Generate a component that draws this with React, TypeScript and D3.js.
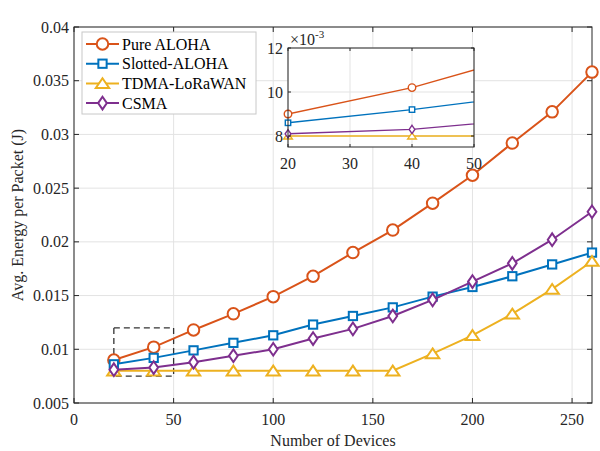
import React from "react";
import * as d3 from "d3";

const devices = [20, 40, 60, 80, 100, 120, 140, 160, 180, 200, 220, 240, 260];
const pureAloha = [0.0090, 0.0102, 0.0118, 0.0133, 0.0149, 0.0168, 0.0190, 0.0211, 0.0236, 0.0262, 0.0292, 0.0321, 0.0358];
const slottedAloha = [0.0086, 0.0092, 0.0099, 0.0106, 0.0113, 0.0123, 0.0131, 0.0139, 0.0149, 0.0158, 0.0168, 0.0179, 0.0190];
const tdmaLoRaWAN = [0.0080, 0.0080, 0.0080, 0.0080, 0.0080, 0.0080, 0.0080, 0.0080, 0.0096, 0.0113, 0.0133, 0.0156, 0.0182];
const csma = [0.0081, 0.0083, 0.0088, 0.0094, 0.0100, 0.0110, 0.0119, 0.0131, 0.0146, 0.0163, 0.0180, 0.0202, 0.0228];

const xTicks = [0, 50, 100, 150, 200, 250];
const yTicks = [0.005, 0.01, 0.015, 0.02, 0.025, 0.03, 0.035, 0.04];
const yTickLabels = ["0.005", "0.01", "0.015", "0.02", "0.025", "0.03", "0.035", "0.04"];
const insetXTicks = [20, 30, 40, 50];
const insetYTicks = [8, 10, 12];

type SeriesDef = { name: string; values: number[]; color: string; marker: string };
const series: SeriesDef[] = [
  { name: "Pure ALOHA", values: pureAloha, color: "#D95319", marker: "circle" },
  { name: "Slotted-ALOHA", values: slottedAloha, color: "#0072BD", marker: "square" },
  { name: "TDMA-LoRaWAN", values: tdmaLoRaWAN, color: "#EDB120", marker: "triangle" },
  { name: "CSMA", values: csma, color: "#7E2F8E", marker: "diamond" },
];

const FONT = "'Liberation Serif', 'Times New Roman', serif";
const AX = "#262626";
const GRID = "#e3e3e3";

function Marker({ type, x, y, s, color, sw }: { type: string; x: number; y: number; s: number; color: string; sw: number }) {
  const common = { fill: "white", stroke: color, strokeWidth: sw };
  if (type === "circle") return <circle cx={x} cy={y} r={s * 0.5} {...common} />;
  if (type === "square") return <rect x={x - s * 0.36} y={y - s * 0.36} width={s * 0.72} height={s * 0.72} {...common} />;
  if (type === "triangle") {
    const w = s * 0.58, h = s * 0.45;
    return <path d={`M${x},${y - h} L${x + w},${y + h * 0.9} L${x - w},${y + h * 0.9} Z`} {...common} />;
  }
  const w = s * 0.38, h = s * 0.55;
  return <path d={`M${x},${y - h} L${x + w},${y} L${x},${y + h} L${x - w},${y} Z`} {...common} />;
}

export default function App() {
  const W = 600, H = 451;
  const L = 74, R = 592, T = 27, B = 403;
  const x = d3.scaleLinear().domain([0, 260]).range([L, R]);
  const y = d3.scaleLinear().domain([0.005, 0.04]).range([B, T]);

  const line = d3.line<[number, number]>().x((d) => x(d[0])).y((d) => y(d[1]));

  // inset
  const iL = 288, iR = 474, iT = 48, iB = 147;
  const ix = d3.scaleLinear().domain([20, 50]).range([iL, iR]);
  const iy = d3.scaleLinear().domain([7.5, 12]).range([iB, iT]);
  const iline = d3.line<[number, number]>().x((d) => ix(d[0])).y((d) => iy(d[1] * 1000));

  const tk = 5;

  return (
    <svg width={W} height={H} style={{ position: "absolute", left: 0, top: 0, background: "white" }} fontFamily={FONT}>
      <defs>
        <clipPath id="insetClip">
          <rect x={iL} y={iT} width={iR - iL} height={iB - iT} />
        </clipPath>
      </defs>
      <rect x={0} y={0} width={W} height={H} fill="white" />
      {/* grid */}
      {xTicks.map((t) => (
        <line key={"gx" + t} x1={x(t)} x2={x(t)} y1={T} y2={B} stroke={GRID} strokeWidth={1} />
      ))}
      {yTicks.map((t) => (
        <line key={"gy" + t} x1={L} x2={R} y1={y(t)} y2={y(t)} stroke={GRID} strokeWidth={1} />
      ))}
      {/* axes box */}
      <rect x={L} y={T} width={R - L} height={B - T} fill="none" stroke={AX} strokeWidth={1} />
      {xTicks.map((t) => (
        <g key={"tx" + t}>
          <line x1={x(t)} x2={x(t)} y1={B} y2={B - tk} stroke={AX} />
          <line x1={x(t)} x2={x(t)} y1={T} y2={T + tk} stroke={AX} />
          <text x={x(t)} y={425} textAnchor="middle" fontSize={16} fill={AX}>{t}</text>
        </g>
      ))}
      {yTicks.map((t, i) => (
        <g key={"ty" + t}>
          <line x1={L} x2={L + tk} y1={y(t)} y2={y(t)} stroke={AX} />
          <line x1={R} x2={R - tk} y1={y(t)} y2={y(t)} stroke={AX} />
          <text x={L - 5} y={y(t) + 5.5} textAnchor="end" fontSize={16} fill={AX}>{yTickLabels[i]}</text>
        </g>
      ))}
      <text x={(L + R) / 2} y={446} textAnchor="middle" fontSize={16} fill={AX}>Number of Devices</text>
      <text transform={`translate(23,${(T + B) / 2}) rotate(-90)`} textAnchor="middle" fontSize={16} fill={AX}>Avg. Energy per Packet (J)</text>

      {/* dashed zoom region */}
      <rect x={x(20)} y={y(0.012)} width={x(50) - x(20)} height={y(0.0075) - y(0.012)} fill="none" stroke="#333" strokeWidth={1.3} strokeDasharray="6,4" />

      {/* series */}
      {series.map((s) => {
        const pts: [number, number][] = devices.map((d, i) => [d, s.values[i]]);
        return (
          <g key={s.name}>
            <path d={line(pts) || ""} fill="none" stroke={s.color} strokeWidth={2} />
            {pts.map((p, i) => (
              <Marker key={i} type={s.marker} x={x(p[0])} y={y(p[1])} s={11.5} color={s.color} sw={2} />
            ))}
          </g>
        );
      })}

      {/* legend */}
      <rect x={82} y={32} width={174} height={82} fill="white" stroke="#c8c8c8" strokeWidth={1} />
      {series.map((s, i) => {
        const ly = 44 + i * 19.7;
        return (
          <g key={"lg" + s.name}>
            <line x1={86} x2={119} y1={ly} y2={ly} stroke={s.color} strokeWidth={2} />
            <Marker type={s.marker} x={102.5} y={ly} s={11.5} color={s.color} sw={2} />
            <text x={122} y={ly + 5.5} fontSize={16} fill="#000">{s.name}</text>
          </g>
        );
      })}

      {/* inset */}
      <rect x={iL} y={iT} width={iR - iL} height={iB - iT} fill="white" />
      {insetXTicks.map((t) => (
        <line key={"igx" + t} x1={ix(t)} x2={ix(t)} y1={iT} y2={iB} stroke={GRID} strokeWidth={1} />
      ))}
      {insetYTicks.map((t) => (
        <line key={"igy" + t} x1={iL} x2={iR} y1={iy(t)} y2={iy(t)} stroke={GRID} strokeWidth={1} />
      ))}
      <g clipPath="url(#insetClip)">
        {series.map((s) => {
          const pts: [number, number][] = devices.map((d, i) => [d, s.values[i]]);
          return <path key={"il" + s.name} d={iline(pts) || ""} fill="none" stroke={s.color} strokeWidth={1.4} />;
        })}
      </g>
      {series.map((s) => (
        <g key={"im" + s.name}>
          {devices.map((d, i) =>
            d >= 20 && d <= 50 ? (
              <Marker key={i} type={s.marker} x={ix(d)} y={iy(s.values[i] * 1000)} s={7.5} color={s.color} sw={1.4} />
            ) : null
          )}
        </g>
      ))}
      <rect x={iL} y={iT} width={iR - iL} height={iB - iT} fill="none" stroke={AX} strokeWidth={1} />
      {insetXTicks.map((t) => (
        <g key={"itx" + t}>
          <line x1={ix(t)} x2={ix(t)} y1={iB} y2={iB - 3} stroke={AX} />
          <line x1={ix(t)} x2={ix(t)} y1={iT} y2={iT + 3} stroke={AX} />
          <text x={ix(t)} y={169} textAnchor="middle" fontSize={16} fill={AX}>{t}</text>
        </g>
      ))}
      {insetYTicks.map((t) => (
        <g key={"ity" + t}>
          <line x1={iL} x2={iL + 3} y1={iy(t)} y2={iy(t)} stroke={AX} />
          <line x1={iR} x2={iR - 3} y1={iy(t)} y2={iy(t)} stroke={AX} />
          <text x={iL - 5} y={iy(t) + 5.5} textAnchor="end" fontSize={16} fill={AX}>{t}</text>
        </g>
      ))}
      <text x={290} y={45} fontSize={16} fill={AX}>
        ×10<tspan dy={-7} fontSize={11}>-3</tspan>
      </text>
    </svg>
  );
}
